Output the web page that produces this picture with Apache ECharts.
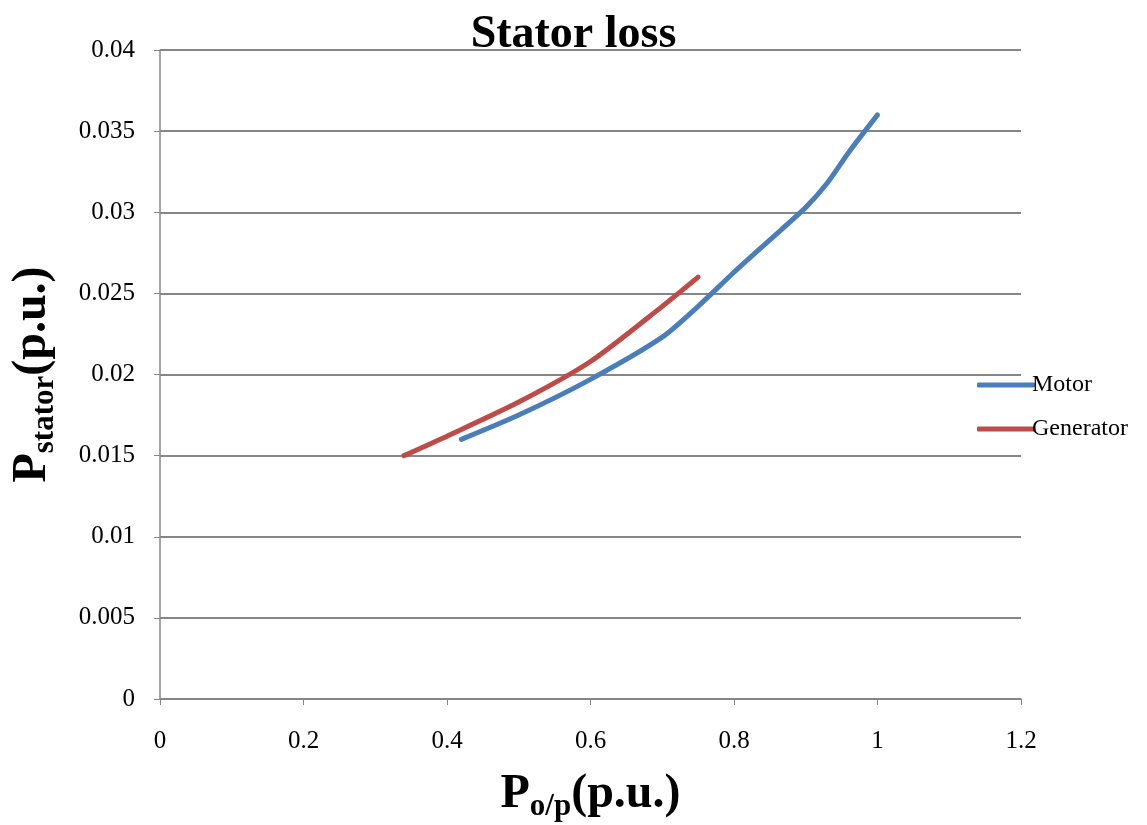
<!DOCTYPE html>
<html><head><meta charset="utf-8">
<script src="https://cdn.jsdelivr.net/npm/echarts@6/dist/echarts.min.js"></script>
<style>html,body{margin:0;padding:0;background:#fff}#c{width:1147px;height:825px}</style>
</head><body><div id="c"></div>
<script>
const motorX = [0.42, 0.5, 0.6, 0.7, 0.75, 0.8, 0.85, 0.9, 0.93, 0.96, 1.0];
const motorY = [0.016, 0.0175, 0.0197, 0.0223, 0.0242, 0.0263, 0.0283, 0.0303, 0.0318, 0.0337, 0.036];
const genX = [0.34, 0.4, 0.5, 0.6, 0.7, 0.75];
const genY = [0.015, 0.0162, 0.0183, 0.0208, 0.0242, 0.026];
const xTicks = [0, 0.2, 0.4, 0.6, 0.8, 1, 1.2];
const yTicks = [0, 0.005, 0.01, 0.015, 0.02, 0.025, 0.03, 0.035, 0.04];

const font = '"Liberation Serif", "Times New Roman", serif';
const chart = echarts.init(document.getElementById('c'));
chart.setOption({
  backgroundColor: '#fff',
  animation: false,
  title: {
    text: 'Stator loss', left: 'center', top: 7,
    textStyle: { fontFamily: font, fontWeight: 'bold', fontSize: 46, color: '#000' }
  },
  legend: {
    orient: 'vertical', left: 972, top: 368, itemWidth: 58, itemHeight: 5, itemGap: 20,
    icon: 'roundRect',
    textStyle: { fontFamily: font, fontSize: 24, color: '#000', padding: [0,0,0,-8] },
    data: ['Motor', 'Generator']
  },
  grid: { left: 160, right: 126, top: 50, bottom: 126, containLabel: false, outerBoundsMode: 'none' },
  xAxis: {
    type: 'value', min: xTicks[0], max: xTicks[xTicks.length - 1], interval: 0.2,
    axisLine: { show: true, lineStyle: { color: '#868686', width: 1.5 } },
    axisTick: { show: true, length: 6, lineStyle: { color: '#868686' } },
    splitLine: { show: false },
    axisLabel: { fontFamily: font, fontSize: 25, color: '#000', margin: 30,
      formatter: v => String(parseFloat(v.toFixed(2))) },
    name: '{b|P}{s|o/p}{b|(p.u.)}', nameLocation: 'middle', nameGap: 68,
    nameTextStyle: { rich: {
      b: { fontFamily: font, fontWeight: 'bold', fontSize: 48, color: '#000' },
      s: { fontFamily: font, fontWeight: 'bold', fontSize: 31, color: '#000', padding: [24, 0, 0, 0] }
    } }
  },
  yAxis: {
    type: 'value', min: yTicks[0], max: yTicks[yTicks.length - 1], interval: 0.005,
    axisLine: { show: true, lineStyle: { color: '#868686', width: 1.5 } },
    axisTick: { show: true, length: 6, lineStyle: { color: '#868686' } },
    splitLine: { show: true, lineStyle: { color: '#868686', width: 2 } },
    axisLabel: { fontFamily: font, fontSize: 25, color: '#000', margin: 25,
      formatter: v => String(parseFloat(v.toFixed(3))) },
    name: '{b|P}{s|stator}{b|(p.u.)}', nameLocation: 'middle', nameGap: 100, nameRotate: 90,
    nameTextStyle: { rich: {
      b: { fontFamily: font, fontWeight: 'bold', fontSize: 48, color: '#000' },
      s: { fontFamily: font, fontWeight: 'bold', fontSize: 31, color: '#000', padding: [24, 0, 0, 0] }
    } }
  },
  series: [
    { name: 'Motor', type: 'line', smooth: 0.25, showSymbol: false, symbol: 'none',
      data: motorX.map((x, i) => [x, motorY[i]]),
      lineStyle: { color: '#4a7ebb', width: 5, cap: 'round' }, itemStyle: { color: '#4a7ebb' } },
    { name: 'Generator', type: 'line', smooth: 0.25, showSymbol: false, symbol: 'none',
      data: genX.map((x, i) => [x, genY[i]]),
      lineStyle: { color: '#be4b48', width: 5, cap: 'round' }, itemStyle: { color: '#be4b48' } }
  ]
});
</script></body></html>
